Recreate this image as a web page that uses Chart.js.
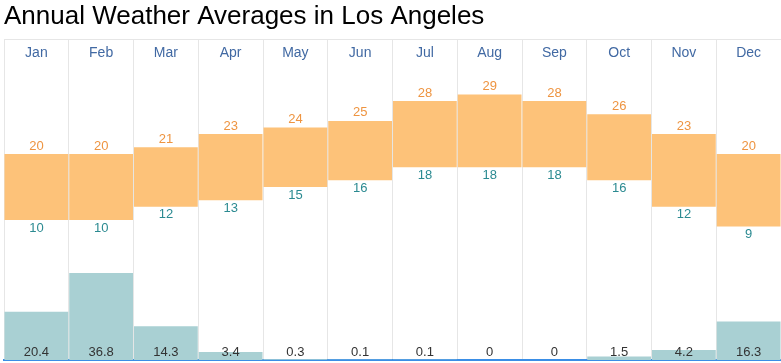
<!DOCTYPE html>
<html lang="en">
<head>
  <meta charset="UTF-8">
  <title>Annual Weather Averages in Los Angeles</title>
  <style>
    body { margin: 0; background: #fff; }
    .wrap { width: 781px; height: 363px; }
  </style>
</head>
<body>
  <div class="wrap">
    <canvas id="weather"></canvas>
  </div>

  <script src="https://cdn.jsdelivr.net/npm/chart.js"></script>
  <script>
    // data
    const months = ['Jan', 'Feb', 'Mar', 'Apr', 'May', 'Jun', 'Jul', 'Aug', 'Sep', 'Oct', 'Nov', 'Dec'];
    const highTemp = [20, 20, 21, 23, 24, 25, 28, 29, 28, 26, 23, 20];
    const lowTemp = [10, 10, 12, 13, 15, 16, 18, 18, 18, 16, 12, 9];
    const precip = [20.4, 36.8, 14.3, 3.4, 0.3, 0.1, 0.1, 0, 0, 1.5, 4.2, 16.3];

    const FONT = "'Liberation Sans', Arial, sans-serif";

    // value labels above/below the bars
    const valueLabels = {
      id: 'valueLabels',
      afterDatasetsDraw(chart) {
        const ctx = chart.ctx;
        ctx.save();
        ctx.font = '13px ' + FONT;
        ctx.textAlign = 'center';
        ctx.textBaseline = 'middle';

        const temp = chart.getDatasetMeta(0);
        temp.data.forEach((bar, i) => {
          ctx.fillStyle = '#ee9440';
          ctx.fillText(highTemp[i], bar.x, bar.y - 8);
          ctx.fillStyle = '#2b8a91';
          ctx.fillText(lowTemp[i], bar.x, bar.base + 8);
        });

        const rain = chart.getDatasetMeta(1);
        rain.data.forEach((bar, i) => {
          ctx.fillStyle = '#333';
          ctx.fillText(precip[i], bar.x, bar.base - 8);
        });
        ctx.restore();
      }
    };

    new Chart(document.getElementById('weather'), {
      type: 'bar',
      data: {
        labels: months,
        datasets: [{
          label: 'Temperature',
          data: months.map((m, i) => [lowTemp[i], highTemp[i]]),
          backgroundColor: '#fdc279',
          yAxisID: 'y',
          grouped: false,
          categoryPercentage: 1,
          barPercentage: 0.985
        }, {
          label: 'Precipitation',
          data: precip,
          backgroundColor: '#a9d0d3',
          yAxisID: 'y2',
          grouped: false,
          categoryPercentage: 1,
          barPercentage: 0.985
        }]
      },
      options: {
        responsive: true,
        maintainAspectRatio: false,
        animation: false,
        layout: { padding: { left: 4, right: 0, top: 0, bottom: 3 } },
        plugins: {
          legend: { display: false },
          tooltip: { enabled: false },
          title: {
            display: true,
            text: 'Annual Weather Averages in Los Angeles',
            align: 'start',
            color: '#000',
            font: { family: FONT, size: 26, weight: 'normal' },
            padding: { top: 1, bottom: 1 }
          }
        },
        scales: {
          x: {
            position: 'top',
            offset: true,
            grid: { color: '#e6e6e6', offset: true, drawTicks: false },
            border: { color: '#e6e6e6' },
            ticks: {
              mirror: true,
              padding: 2.9,
              color: '#4169a3',
              font: { family: FONT, size: 14, lineHeight: 1.58 }
            }
          },
          x2: {
            position: 'bottom',
            grid: { display: false, drawTicks: false },
            border: { color: '#3a8ee6', width: 2 },
            ticks: { display: false }
          },
          y: {
            display: false,
            min: -11.2,
            max: 37.4
          },
          y2: {
            display: false,
            min: 0,
            max: 135.8
          }
        }
      },
      plugins: [valueLabels]
    });
  </script>
</body>
</html>
